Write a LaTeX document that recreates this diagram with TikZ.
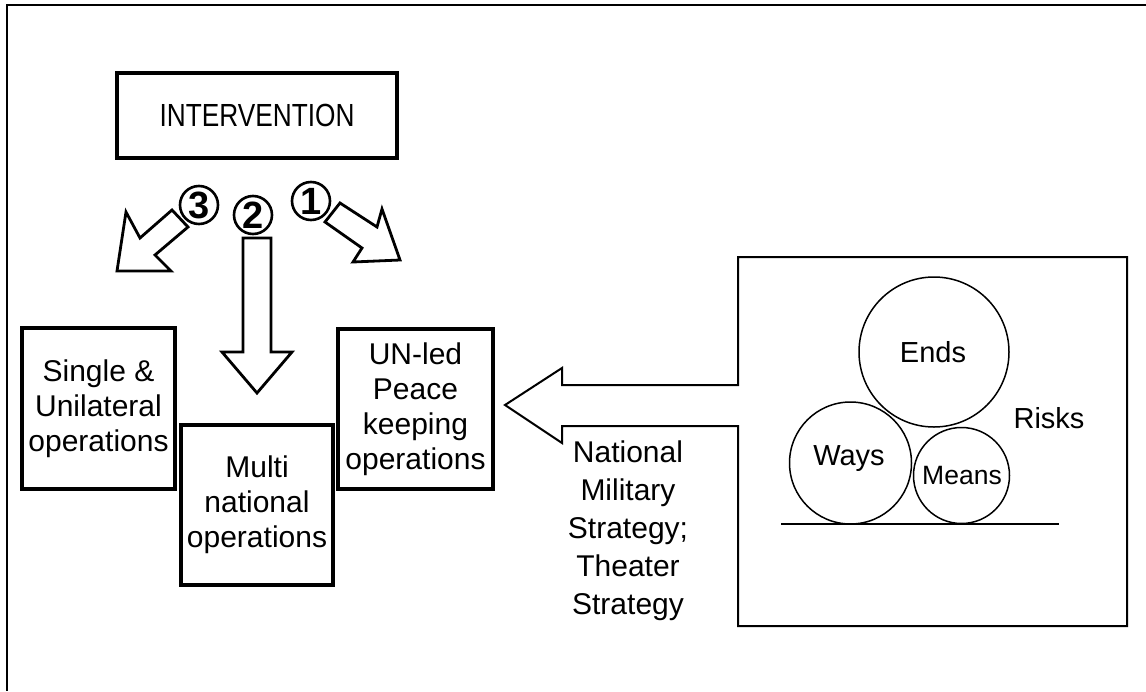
\documentclass[tikz,border=0pt]{standalone}
\usepackage{fontspec}
\setmainfont{Liberation Sans}
\newfontfamily\narrowsans[FakeStretch=0.82]{Liberation Sans}
\begin{document}
\begin{tikzpicture}[x=1pt,y=-1pt,
  frame/.style={line width=2.5pt},
  opbox/.style={draw, line width=3.2pt, align=center, inner sep=0pt,
    font=\fontsize{30}{35}\selectfont},
  blockarrow/.style={draw, line width=2.8pt, line join=miter, fill=white},
  outline/.style={draw, line width=2pt, line join=miter},
  numc/.style={circle, draw, line width=2.6pt, minimum size=38pt, inner sep=0pt,
    font=\fontsize{38}{38}\selectfont\bfseries},
  bubble/.style={circle, draw, line width=1.5pt, inner sep=0pt},
  lbl/.style={align=center, inner sep=0pt, font=\fontsize{30}{38}\selectfont},
  ctext/.style={font=\fontsize{29}{29}\selectfont}]
\useasboundingbox (0,0) rectangle (1146,691);

% outer frame (top and left edges)
\draw[frame] (1146,5) -- (7,5) -- (7,691);

% intervention
\node[opbox, minimum width=280pt, minimum height=85pt,
  font=\narrowsans\fontsize{32}{34}\selectfont]
  (interv) at (257,115.5) {INTERVENTION};

% operation boxes
\node[opbox, minimum width=153pt, minimum height=161pt] (single) at (98.5,408.5)
  {Single \&\\Unilateral\\operations};
\node[opbox, minimum width=152pt, minimum height=160pt] (multi) at (257,505)
  {Multi\\national\\operations};
\node[opbox, minimum width=155pt, minimum height=160pt] (unled) at (415.5,409)
  {UN-led\\Peace\\keeping\\operations};

% block arrows
\draw[blockarrow] (117,271) -- (126,212) -- (140,238) -- (172,210) -- (188,227)
  -- (155,255) -- (171,271) -- cycle;
\draw[blockarrow] (243,238) -- (271,238) -- (271,352) -- (292,352) -- (257,393)
  -- (222,352) -- (243,352) -- cycle;
\draw[blockarrow] (325,222) -- (340,203) -- (377,227) -- (382,209) -- (400,260)
  -- (353,262) -- (362,248) -- cycle;

% circled numbers
\node[numc] (n3) at (199,205) {3};
\node[numc] (n2) at (253,215) {2};
\node[numc] (n1) at (311,201) {1};

% strategy box with big arrow
\draw[outline] (738,257) -- (1127,257) -- (1127,626) -- (738,626) -- (738,426)
  -- (562,426) -- (562,443) -- (505,405) -- (562,368) -- (562,385) -- (738,385) -- cycle;

\node[lbl] (nms) at (628,531)
  {National\\Military\\Strategy;\\Theater\\Strategy};

% ends, ways, means
\node[bubble, minimum size=150pt] (ends) at (934,352) {};
\node[bubble, minimum size=122pt] (ways) at (850.5,463) {};
\node[bubble, minimum size=96pt] (means) at (961.5,475.5) {};
\node[ctext] at (933,352) {Ends};
\node[ctext] at (849,459) {Ways};
\node[ctext, font=\fontsize{26.5}{26.5}\selectfont] at (962,476) {Means};
\node[ctext] (risks) at (1049,418) {Risks};
\coordinate (g1) at (781,524);
\coordinate (g2) at (1059,524);
\draw[line width=1.5pt] (g1) -- (g2);
\end{tikzpicture}
\end{document}
